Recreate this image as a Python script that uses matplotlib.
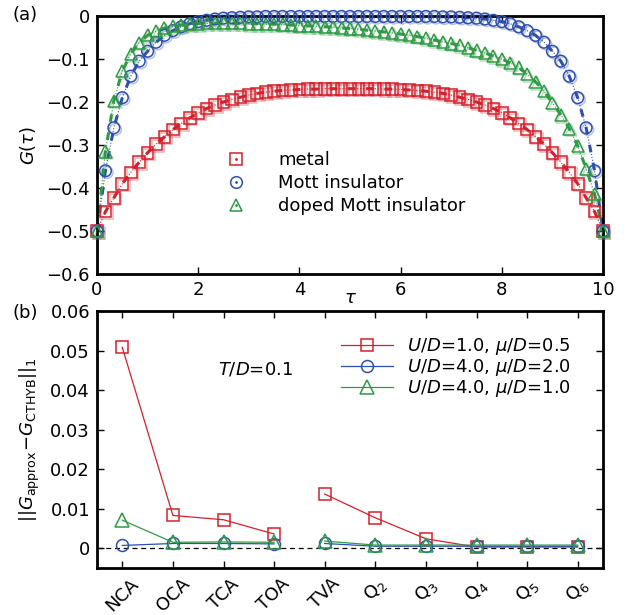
import numpy as np
import matplotlib
matplotlib.use("Agg")
import matplotlib.pyplot as plt
import matplotlib.patheffects as pe
from matplotlib.lines import Line2D

plt.rcParams['font.family'] = ['DejaVu Sans']
plt.rcParams['mathtext.fontset'] = 'dejavusans'

# ---------------- panel (a) data ----------------
tau = np.linspace(0, 10, 61)

g_metal = [-0.500, -0.455, -0.423, -0.390, -0.364, -0.340, -0.318, -0.298, -0.281, -0.264,
           -0.250, -0.237, -0.225, -0.215, -0.207, -0.200, -0.194, -0.189, -0.184, -0.180,
           -0.177, -0.175, -0.173, -0.172, -0.171, -0.170, -0.170, -0.169, -0.169, -0.169,
           -0.169,
           -0.169, -0.169, -0.169, -0.170, -0.170, -0.171, -0.172, -0.173, -0.175, -0.177,
           -0.180, -0.184, -0.189, -0.194, -0.200, -0.207, -0.215, -0.225, -0.237, -0.250,
           -0.264, -0.281, -0.298, -0.318, -0.340, -0.364, -0.390, -0.423, -0.455, -0.500]

g_mott = [-0.500, -0.360, -0.260, -0.190, -0.140, -0.105, -0.082, -0.061, -0.045, -0.034,
          -0.025, -0.018, -0.013, -0.010, -0.007, -0.005, -0.004, -0.003, -0.002, -0.002,
          -0.001, -0.001, -0.001, -0.001, -0.001, -0.001, -0.001, -0.001, -0.001, -0.001,
          -0.001,
          -0.001, -0.001, -0.001, -0.001, -0.001, -0.001, -0.001, -0.001, -0.001, -0.001,
          -0.002, -0.002, -0.003, -0.004, -0.005, -0.007, -0.010, -0.013, -0.018, -0.025,
          -0.034, -0.045, -0.061, -0.082, -0.105, -0.140, -0.190, -0.260, -0.360, -0.500]

g_doped = [-0.500, -0.315, -0.197, -0.128, -0.088, -0.062, -0.045, -0.035, -0.028, -0.024,
           -0.021, -0.019, -0.018, -0.017, -0.017, -0.017, -0.017, -0.017, -0.018, -0.018,
           -0.019, -0.019, -0.020, -0.021, -0.022, -0.023, -0.024, -0.025, -0.026, -0.028,
           -0.029,
           -0.031, -0.033, -0.035, -0.037, -0.039, -0.042, -0.045, -0.048, -0.052, -0.056,
           -0.060, -0.064, -0.068, -0.074, -0.080, -0.086, -0.093, -0.100, -0.109, -0.120,
           -0.135, -0.153, -0.175, -0.202, -0.230, -0.262, -0.302, -0.355, -0.414, -0.500]

labels_a = ["metal", "Mott insulator", "doped Mott insulator"]

# ---------------- panel (b) data ----------------
methods = ["NCA", "OCA", "TCA", "TOA", "TVA", r"Q$_2$", r"Q$_3$", r"Q$_4$", r"Q$_5$", r"Q$_6$"]
n_first_group = 4   # NCA..TOA are joined; TVA..Q6 are joined
err_u1 = [0.0508, 0.0083, 0.0072, 0.0036, 0.0137, 0.0077, 0.0024, 0.0003, 0.0003, 0.0003]
err_u4_mu2 = [0.0007, 0.0012, 0.0012, 0.0011, 0.0012, 0.0005, 0.0005, 0.0005, 0.0005, 0.0005]
err_u4_mu1 = [0.0071, 0.0015, 0.0016, 0.0015, 0.0018, 0.0008, 0.0008, 0.0008, 0.0008, 0.0008]
labels_b = [r"$U/D$=1.0, $\mu/D$=0.5", r"$U/D$=4.0, $\mu/D$=2.0", r"$U/D$=4.0, $\mu/D$=1.0"]

red = "#d4202c"
blue = "#2f4fae"
green = "#2e9a45"
colors = [red, blue, green]
markers = ["s", "o", "^"]

fig = plt.figure(figsize=(6.39, 6.15), dpi=100)
FS = 13

def style_axes(ax):
    for s in ax.spines.values():
        s.set_linewidth(2.0)
        s.set_zorder(2.5)
    ax.tick_params(direction="in", length=5, width=1.0, top=True, right=True,
                   labelsize=FS, pad=5)

# ---------------- panel (a) ----------------
axa = fig.add_axes([97/639, 1-274/615, 506/639, 258/615])
series = [g_metal, g_mott, g_doped]
handles = []
for g, c, m, lab in zip(series, colors, markers, labels_a):
    ms = 8.4 if m != "^" else 8.8
    axa.plot(tau, g, ls=(0, (2.5, 3.5)), lw=2.2, color=c, zorder=2)
    axa.plot(tau, g, ls=":", lw=0.8, color=c, zorder=2)
    axa.plot(tau, g, ls="none", marker=m, ms=ms, mfc="none",
             mec=c, mew=1.1, zorder=3, clip_on=False,
             path_effects=[pe.SimpleLineShadow(offset=(1.2, -1.2), shadow_color=c, alpha=0.35),
                           pe.Normal()])
    dot = Line2D([], [], ls="none", marker=".", ms=2, color=c)
    hm = Line2D([], [], ls="none", marker=m, ms=ms, mfc="none", mec=c, mew=1.1)
    handles.append((hm, dot))

axa.set_xlim(0, 10)
axa.set_ylim(-0.6, 0)
axa.set_xticks([0, 2, 4, 6, 8, 10])
axa.set_yticks([0, -0.1, -0.2, -0.3, -0.4, -0.5, -0.6])
axa.set_yticklabels(["0", "\u22120.1", "\u22120.2", "\u22120.3", "\u22120.4", "\u22120.5", "\u22120.6"])
style_axes(axa)
axa.set_ylabel(r"$G(\tau)$", fontsize=FS, labelpad=6)
axa.set_xlabel(r"$\tau$", fontsize=FS, labelpad=-7)
axa.legend(handles, labels_a, loc="upper left", bbox_to_anchor=(0.24, 0.505),
           frameon=False, fontsize=FS, handlelength=1.2, handletextpad=1.7,
           labelspacing=0.28, borderaxespad=0)
fig.text(12/639, 1-15/615, "(a)", fontsize=FS, ha="left", va="center")

# ---------------- panel (b) ----------------
axb = fig.add_axes([97/639, 1-568/615, 506/639, 257/615])
xpos = np.arange(len(methods)) + 0.5
axb.axhline(0, color="black", ls=(0, (4, 3)), lw=0.9, zorder=1)
errs = [err_u1, err_u4_mu2, err_u4_mu1]
k = n_first_group
for e, c, m, lab in zip(errs, colors, markers, labels_b):
    ms = 8.6 if m != "^" else 9.4
    kw = dict(color=c, lw=0.9, marker=m, ms=ms, mfc="none", mec=c, mew=1.1, zorder=3)
    axb.plot(xpos[:k], e[:k], label=lab, **kw)
    axb.plot(xpos[k:], e[k:], **kw)
axb.set_xlim(0, 10)
axb.set_ylim(-0.005, 0.06)
axb.set_xticks(xpos)
axb.set_xticklabels(methods, rotation=45, ha="center", va="top")
axb.set_yticks([0, 0.01, 0.02, 0.03, 0.04, 0.05, 0.06])
axb.set_yticklabels(["0", "0.01", "0.02", "0.03", "0.04", "0.05", "0.06"])
style_axes(axb)
axb.tick_params(axis="x", pad=5)
axb.set_ylabel(r"$||G_{\mathrm{approx}}\!-\!G_{\mathrm{CTHYB}}||_1$", fontsize=FS, labelpad=6)
axb.legend(loc="upper left", bbox_to_anchor=(0.467, 0.93), frameon=False, fontsize=FS,
           handlelength=2.9, handletextpad=0.8, labelspacing=0.0, borderaxespad=0)
axb.text(0.24, 0.774, r"$T/D$=0.1", transform=axb.transAxes, fontsize=FS, ha="left", va="center")
fig.text(12/639, 1-313/615, "(b)", fontsize=FS, ha="left", va="center")

fig.savefig("out.png", dpi=100)
